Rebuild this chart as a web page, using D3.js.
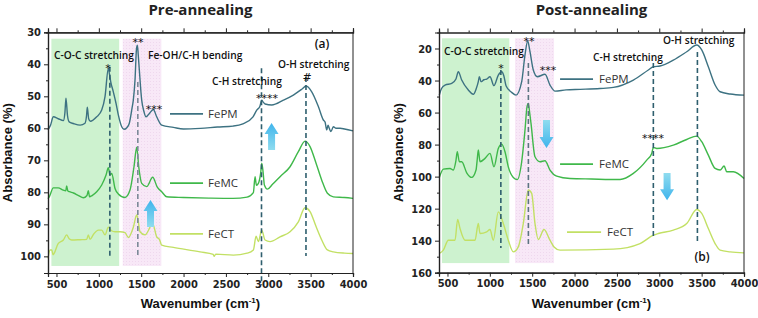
<!DOCTYPE html>
<html>
<head>
<meta charset="utf-8">
<script src="https://cdn.jsdelivr.net/npm/d3@7"></script>
<style>
body{margin:0;background:#fff;}
.tick text{font-family:"Liberation Sans Narrow","DejaVu Sans Condensed","Liberation Sans",sans-serif;font-weight:bold;font-size:11px;fill:#222;}
.axis path,.axis line{stroke:#222;}
.axlabel{font-family:"Liberation Sans","Liberation Sans Narrow",sans-serif;font-weight:bold;font-size:13px;fill:#111;}
.title{font-family:"Open Sans",sans-serif;font-weight:700;font-size:15px;fill:#222;}
.note{font-family:"Open Sans",sans-serif;font-weight:600;font-size:10.2px;fill:#111;}
.star{font-family:"DejaVu Sans",sans-serif;font-size:11px;fill:#111;}
.leg{font-family:"Open Sans",sans-serif;font-size:11.5px;fill:#333;}
</style>
</head>
<body>
<script>
var width=758,height=318;

// wavenumber (cm-1) vs absorbance (%)
var prePM = [[400,60.5],[430,59],[463,56.4],[520,57],[581,57.6],[600,55],[612,50.6],[630,56],[650,58],[700,58.5],[780,59],[837,58.4],[855,56],[864,53.4],[880,57],[900,57.8],[975,56.4],[1034,54.3],[1073,50.1],[1112,41.3],[1125,43],[1140,45.4],[1171,48.6],[1203,52.2],[1230,55.8],[1270,59.5],[1297,60.3],[1330,59.8],[1360,58.4],[1390,54],[1407,51.2],[1427,44.9],[1445,35],[1455,34],[1465,37],[1478,41.8],[1506,51.2],[1530,54.5],[1557,56.4],[1604,55.1],[1643,54.1],[1683,56.4],[1742,59],[1880,59.7],[2000,60.2],[2200,60],[2400,59.6],[2584,59.3],[2700,58.6],[2820,56.4],[2864,54.3],[2900,53.2],[2923,51.2],[2940,51.8],[2962,52.4],[3041,52.7],[3178,51.2],[3296,49.6],[3395,47.8],[3446,46.8],[3513,48.6],[3591,53.2],[3650,57.4],[3670,58],[3690,60.5],[3705,59],[3720,60],[3740,61],[3768,59.5],[3800,60],[3847,60],[3900,60.2],[4000,60.8]];
var preMC = [[400,82],[415,81.4],[463,78.6],[520,78.6],[581,79.3],[610,79.5],[620,78],[635,79.6],[652,79.8],[700,80.2],[760,81],[817,81.7],[860,81],[876,79.5],[890,81.4],[920,81],[975,79.8],[1034,77.7],[1085,74.6],[1112,72.3],[1132,74.6],[1152,74.1],[1191,78.8],[1230,80.5],[1309,81.6],[1368,79.3],[1415,72],[1447,65.9],[1471,72],[1506,77.2],[1565,78.2],[1636,75.3],[1690,78.4],[1742,79.8],[1801,81.4],[2000,81.6],[2300,81.8],[2584,81.9],[2750,81.5],[2824,80.1],[2844,75.1],[2860,77.8],[2883,77.2],[2910,74],[2923,70.9],[2940,74],[2954,77.7],[2990,79],[3050,77.5],[3139,75.1],[3257,72],[3355,67.3],[3434,64],[3493,65.7],[3564,70.9],[3631,76.2],[3698,80.3],[3768,81.4],[3900,81.6],[4000,81.9]];
var preCT = [[400,100.6],[425,98],[444,98],[460,99.5],[474,99],[520,96],[581,94.9],[620,93.3],[650,94.5],[680,94.9],[780,94.8],[857,94.7],[876,93.3],[896,94.7],[940,93],[994,91.8],[1034,91.8],[1073,93.3],[1112,90.9],[1150,92],[1191,92.3],[1250,92.3],[1309,92.6],[1348,94.1],[1407,90.9],[1447,87.1],[1465,89],[1486,92.3],[1545,93.3],[1636,89.9],[1683,93.9],[1715,94.7],[1742,96.5],[1880,97.2],[2195,98.6],[2350,99.4],[2360,100],[2380,99.3],[2588,99.6],[2750,99],[2824,98],[2856,93.7],[2883,95.4],[2923,91.8],[2962,94.9],[3021,95.4],[3139,93.9],[3257,92.3],[3355,89.2],[3434,84.8],[3493,86],[3564,90.7],[3631,94.9],[3698,98],[3768,98.6],[3900,99],[4000,99.1]];

var postPM = [[404,49.1],[430,45],[471,42.8],[550,41.8],[600,39],[628,34.5],[668,39.7],[746,45.9],[805,48.6],[840,45],[864,40.7],[876,37.6],[896,40.7],[930,39.5],[963,39.1],[1002,37.6],[1049,43.2],[1100,36.6],[1140,34.5],[1165,37],[1191,43.2],[1258,47.4],[1309,49.1],[1376,40.7],[1415,24],[1447,15.3],[1474,22],[1513,33.4],[1561,37.6],[1651,36.1],[1710,42.8],[1770,46.6],[1900,45.8],[2065,45.5],[2300,45],[2458,44.3],[2694,39.7],[2871,33.4],[2930,31.4],[3009,30.9],[3166,27.2],[3324,22],[3442,17.8],[3501,20.9],[3579,31.4],[3659,42.8],[3718,47],[3836,48.4],[4000,49.1]];
var postMC = [[404,100.5],[452,95.3],[530,94.9],[569,95.9],[600,90],[616,84.5],[640,90.7],[668,90.7],[727,97.6],[786,100.5],[837,95.9],[850,90],[864,83.4],[884,90.7],[943,88.6],[1002,85.5],[1049,93.9],[1100,82.4],[1140,79.7],[1179,84.5],[1218,93.9],[1277,100.5],[1325,101.8],[1376,90.7],[1415,70.9],[1440,56],[1454,54.3],[1470,60],[1486,66.8],[1533,87.6],[1592,90.7],[1651,90.1],[1710,95.9],[1789,99.7],[1947,101.2],[2200,101.5],[2537,101.8],[2694,98],[2852,89.7],[2911,85.5],[2930,81.8],[2970,82.4],[3166,80.3],[3324,76.8],[3442,74.7],[3501,78.2],[3579,86.6],[3659,94.9],[3718,95.9],[3765,93.4],[3797,97],[3875,97],[4000,101.2]];
var postCT = [[404,148],[451,145.9],[510,139.7],[589,139.7],[620,126.8],[648,132.4],[707,139.7],[825,139.7],[864,129.3],[884,135.5],[963,134.5],[1002,133],[1041,139.7],[1100,122],[1159,129.3],[1218,139.7],[1277,147],[1336,143.9],[1395,129.3],[1454,108.4],[1494,110.5],[1533,129.3],[1572,139.3],[1640,133],[1710,139.7],[1758,143.9],[1829,145.9],[2458,145.3],[2773,141.8],[2930,136.6],[2989,135.5],[3166,133.4],[3324,129.3],[3442,120.5],[3501,123],[3579,132.4],[3659,141.8],[3718,145.9],[3836,147],[4000,147.6]];

var seriesNames = ["FePM","FeMC","FeCT"];
var seriesColors = {FePM:"#3d7282", FeMC:"#3fb84a", FeCT:"#c2e064"};

var xTicks = [500,1000,1500,2000,2500,3000,3500,4000];
var xMinor = [750,1250,1750,2250,2750,3250,3750];
var preTicks = [30,40,50,60,70,80,90,100];
var preMinor = [35,45,55,65,75,85,95];
var postTicks = [20,40,60,80,100,120,140,160];
var postMinor = [30,50,70,90,110,130,150];

var panels = [
  {title:"Pre-annealing", tag:"(a)", left:48, right:353, top:32.3, bottom:273, yDomain:[30,105.2],
   ticks:preTicks, minor:preMinor, data:[prePM,preMC,preCT],
   bands:[[440,1240,32,103,"green"],[1282,1738,32,103,"pink"]],
   dashes:[[1130,40.8,100.2,"#2f5f6e"],[1460,45.5,100.2,"#7c8a98"],[2920,41.2,109,"#2f5f6e"],[3445,44,99.9,"#2f5f6e"]],
   notes:[["C-O-C stretching",471,38.4],["Fe-OH/C-H bending",1581,38.4],["C-H stretching",2336,46.6],["O-H stretching",3115,41]],
   stars:[["*",1108,42.3],["**",1463,34.3],["***",1651,55.2],["****",2986,51.8],["#",3458,45.2]],
   tagPos:[3635,35],
   legend:[[1840,2230,2289,55.5],[1840,2230,2289,77.1],[1840,2230,2289,93]],
   arrows:[[3039,66.8,58.3],[1610,90.8,82.4]]},
  {title:"Post-annealing", tag:"(b)", left:439, right:744, top:32.5, bottom:272.7, yDomain:[10,160],
   ticks:postTicks, minor:postMinor, data:[postPM,postMC,postCT],
   bands:[[435,1230,13.6,154,"green"],[1297,1758,13.6,154,"pink"]],
   dashes:[[1130,33.4,144.5,"#2f5f6e"],[1455,29,142,"#5d7482"],[2930,29,137.8,"#2f5f6e"],[3450,22.2,141.6,"#2f5f6e"]],
   notes:[["C-O-C stretching",459,24],["C-H stretching",2218,27.8],["O-H stretching",3045,17]],
   stars:[["*",1132,34.4],["**",1463,17.5],["***",1687,36.2],["****",2927,78.1]],
   tagPos:[3505,153],
   legend:[[1829,2218,2289,39.1],[1829,2218,2289,92.2],[1911,2313,2383,134.7]],
   arrows:[[1669,64.7,82.2],[3092,97.8,114.7]]}
];

var svg = d3.select("body").append("svg")
  .attr("width", width)
  .attr("height", height);

var defs = svg.append("defs");
var grad = defs.append("linearGradient").attr("id","arrowGrad")
  .attr("x1",0).attr("y1",0).attr("x2",0).attr("y2",1);
grad.append("stop").attr("offset","0%").attr("stop-color","#8fdcef");
grad.append("stop").attr("offset","100%").attr("stop-color","#3fb4ec");
var grad2 = defs.append("linearGradient").attr("id","arrowGradUp")
  .attr("x1",0).attr("y1",1).attr("x2",0).attr("y2",0);
grad2.append("stop").attr("offset","0%").attr("stop-color","#8fdcef");
grad2.append("stop").attr("offset","100%").attr("stop-color","#3fb4ec");
// dotted pink fill like the original shading
var pat = defs.append("pattern").attr("id","pinkDots")
  .attr("patternUnits","userSpaceOnUse").attr("width",3).attr("height",3);
pat.append("rect").attr("width",3).attr("height",3).attr("fill","#f8e8f7");
pat.append("rect").attr("width",1).attr("height",1).attr("fill","#efd8ee");

panels.forEach(function(p){
  var x = d3.scaleLinear().domain([400,4000]).range([p.left,p.right]);
  var y = d3.scaleLinear().domain(p.yDomain).range([p.top,p.bottom]);
  var g = svg.append("g");

  // shaded regions
  g.selectAll("rect.band").data(p.bands).enter().append("rect")
    .attr("class","band")
    .attr("x", function(d){ return x(d[0]); })
    .attr("width", function(d){ return x(d[1])-x(d[0]); })
    .attr("y", function(d){ return y(d[2]); })
    .attr("height", function(d){ return y(d[3])-y(d[2]); })
    .attr("fill", function(d){ return d[4]=="green" ? "#cdf2cf" : "url(#pinkDots)"; });

  // spectra
  var line = d3.line()
    .x(function(d){ return x(d[0]); })
    .y(function(d){ return y(d[1]); })
    .curve(d3.curveMonotoneX);
  g.selectAll("path.spec").data(p.data).enter().append("path")
    .attr("class","spec")
    .attr("d", line)
    .attr("fill","none")
    .attr("stroke", function(d,i){ return seriesColors[seriesNames[i]]; })
    .attr("stroke-width",1.4);

  // dashed guides
  g.selectAll("line.dash").data(p.dashes).enter().append("line")
    .attr("x1", function(d){ return x(d[0]); })
    .attr("x2", function(d){ return x(d[0]); })
    .attr("y1", function(d){ return y(d[1]); })
    .attr("y2", function(d){ return y(d[2]); })
    .attr("stroke", function(d){ return d[3]; })
    .attr("stroke-width",1.6)
    .attr("stroke-dasharray","5,3");

  // legend
  var leg = g.selectAll("g.leg").data(p.legend).enter().append("g");
  leg.append("line")
    .attr("x1", function(d){ return x(d[0]); })
    .attr("x2", function(d){ return x(d[1]); })
    .attr("y1", function(d){ return y(d[3]); })
    .attr("y2", function(d){ return y(d[3]); })
    .attr("stroke", function(d,i){ return seriesColors[seriesNames[i]]; })
    .attr("stroke-width",1.8);
  leg.append("text").attr("class","leg")
    .attr("x", function(d){ return x(d[2]); })
    .attr("y", function(d){ return y(d[3]); })
    .attr("dy","0.36em")
    .text(function(d,i){ return seriesNames[i]; });

  // arrows
  p.arrows.forEach(function(a){
    var cx = x(a[0]), y0 = y(a[1]), y1 = y(a[2]);
    var up = y1 < y0, hw = 7, sw = 3.5, hl = 11;
    var s = up ? -1 : 1;
    var pts = [[cx-sw,y0],[cx+sw,y0],[cx+sw,y1-s*hl],[cx+hw,y1-s*hl],[cx,y1],[cx-hw,y1-s*hl],[cx-sw,y1-s*hl]];
    g.append("path")
      .attr("d","M"+pts.map(function(q){return q.join(",");}).join("L")+"Z")
      .attr("fill", up ? "url(#arrowGradUp)" : "url(#arrowGrad)");
  });

  // notes
  g.selectAll("text.note").data(p.notes).enter().append("text")
    .attr("class","note")
    .attr("x", function(d){ return x(d[1]); })
    .attr("y", function(d){ return y(d[2]); })
    .text(function(d){ return d[0]; });
  g.selectAll("text.star").data(p.stars).enter().append("text")
    .attr("class","star")
    .attr("text-anchor","middle")
    .attr("x", function(d){ return x(d[1]); })
    .attr("y", function(d){ return y(d[2]); })
    .text(function(d){ return d[0]; });
  g.append("text").attr("class","note")
    .style("font-size","12px")
    .attr("text-anchor","middle")
    .attr("x", x(p.tagPos[0]))
    .attr("y", y(p.tagPos[1]))
    .text(p.tag);

  // axes
  var fmt = d3.format("d");
  g.append("g").attr("class","axis")
    .attr("transform","translate(0,"+p.bottom+")")
    .call(d3.axisBottom(x).tickValues(xTicks).tickSize(4).tickPadding(3).tickFormat(fmt));
  g.append("g").attr("class","axis")
    .attr("transform","translate(0,"+p.bottom+")")
    .call(d3.axisBottom(x).tickValues(xMinor).tickSize(2).tickFormat(""));
  g.append("g").attr("class","axis")
    .attr("transform","translate(0,"+p.top+")")
    .call(d3.axisTop(x).tickValues(xTicks).tickSize(4).tickFormat(""));
  g.append("g").attr("class","axis")
    .attr("transform","translate(0,"+p.top+")")
    .call(d3.axisTop(x).tickValues(xMinor).tickSize(2).tickFormat(""));
  g.append("g").attr("class","axis")
    .attr("transform","translate("+p.left+",0)")
    .call(d3.axisLeft(y).tickValues(p.ticks).tickSize(4).tickPadding(3).tickFormat(fmt));
  g.append("g").attr("class","axis")
    .attr("transform","translate("+p.left+",0)")
    .call(d3.axisLeft(y).tickValues(p.minor).tickSize(2).tickFormat(""));
  g.append("line")
    .attr("x1",p.right).attr("x2",p.right)
    .attr("y1",p.top).attr("y2",p.bottom)
    .attr("stroke","#222");
  g.selectAll(".axis path").attr("stroke-width",1.2);

  // titles
  var cx = (p.left+p.right)/2;
  svg.append("text").attr("class","title")
    .attr("text-anchor","middle")
    .attr("x", cx).attr("y", 15)
    .text(p.title);
  var xl = svg.append("text").attr("class","axlabel")
    .attr("text-anchor","middle")
    .attr("x", cx).attr("y", 308);
  xl.append("tspan").text("Wavenumber (cm");
  xl.append("tspan").attr("dy",-5).style("font-size","8px").text("-1");
  xl.append("tspan").attr("dy",5).text(")");
  svg.append("text").attr("class","axlabel")
    .attr("text-anchor","middle")
    .attr("transform","translate("+(p.left-36)+","+(p.top+p.bottom)/2+") rotate(-90)")
    .text("Absorbance (%)");
});
</script>
</body>
</html>
